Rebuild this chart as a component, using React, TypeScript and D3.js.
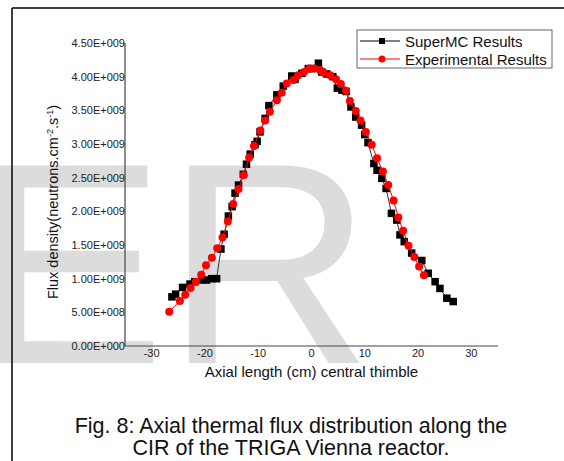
import React from "react";
import * as d3 from "d3";

const superX = [-26.2,-25.5,-24.2,-22.8,-21.9,-20.6,-19.7,-18.7,-17.8,-17.0,-16.4,-15.6,-14.9,-14.35,-13.7,-12.8,-12.2,-11.5,-10.6,-10.2,-9.66,-8.7,-8.0,-6.5,-5.3,-3.7,-3.1,-1.8,-0.6,0.0,1.3,1.9,2.85,4.0,4.85,5.7,6.5,7.4,8.3,9.4,10.0,10.6,11.7,12.3,13.2,14.0,15.0,16.0,16.6,17.4,18.8,20.7,21.9,23.2,24.1,25.4,26.6];
const superY = [0.73,0.77,0.87,0.92,0.955,0.98,0.98,1.0,1.0,1.44,1.66,1.93,2.07,2.27,2.39,2.55,2.70,2.85,2.99,3.04,3.18,3.38,3.57,3.73,3.86,4.01,3.96,4.05,4.12,4.12,4.20,4.07,4.04,4.00,3.83,3.80,3.78,3.55,3.40,3.28,3.14,3.02,2.71,2.61,2.49,2.34,1.97,1.87,1.65,1.55,1.38,1.27,1.08,0.955,0.855,0.71,0.66];

const expX = [-26.7,-24.7,-23.7,-22.7,-21.7,-20.7,-19.8,-18.7,-17.7,-16.7,-15.7,-14.7,-13.7,-12.7,-11.7,-10.8,-9.6,-8.7,-7.8,-6.5,-5.6,-4.65,-3.4,-2.5,-1.4,-0.4,0.5,1.6,2.3,3.5,4.6,5.5,6.5,7.2,8.3,9.2,10.2,11.3,12.3,13.4,14.4,15.4,16.3,17.2,18.2,19.3,20.2,21.1];
const expY = [0.51,0.67,0.76,0.86,0.955,1.06,1.20,1.31,1.45,1.61,1.85,2.11,2.33,2.54,2.80,2.97,3.20,3.35,3.48,3.65,3.76,3.90,3.95,4.02,4.07,4.12,4.12,4.10,4.06,4.02,3.96,3.89,3.79,3.64,3.49,3.35,3.18,2.99,2.79,2.59,2.39,2.16,1.91,1.71,1.49,1.32,1.18,1.05];

const xTicks = [-30,-20,-10,0,10,20,30];
const yTicks = [0,0.5,1.0,1.5,2.0,2.5,3.0,3.5,4.0,4.5];
const yTickLabels = ["0.00E+000","5.00E+008","1.00E+009","1.50E+009","2.00E+009","2.50E+009","3.00E+009","3.50E+009","4.00E+009","4.50E+009"];
const seriesNames = ["SuperMC Results","Experimental Results"];

const FONT = "'Liberation Sans', Arial, sans-serif";

export default function App() {
  const W = 564, H = 461;
  const x = d3.scaleLinear().domain([-35, 35]).range([125, 498]);
  const y = d3.scaleLinear().domain([0, 4.5]).range([346, 43]);
  const line = d3.line<[number, number]>().x(d => x(d[0])).y(d => y(d[1]));
  const sData: [number, number][] = superX.map((v, i) => [v, superY[i]]);
  const eData: [number, number][] = expX.map((v, i) => [v, expY[i]]);

  return (
    <svg width={W} height={H} style={{ position: "absolute", left: 0, top: 0, background: "#fff" }} fontFamily={FONT}>
      <rect x={0} y={0} width={W} height={H} fill="#fff" />
      {/* watermark */}
      <text x={-26} y={363} fontSize={287} fill="#dcdcdc" fontFamily={FONT}>ER</text>
      {/* frame */}
      <line x1={12} y1={8} x2={W} y2={8} stroke="#000" strokeWidth={1.5} />
      <line x1={12} y1={8} x2={12} y2={H} stroke="#000" strokeWidth={1.5} />
      {/* axes */}
      <line x1={x(-35)} y1={y(0)} x2={x(35)} y2={y(0)} stroke="#444" strokeWidth={1.2} />
      <line x1={x(-35)} y1={y(0)} x2={x(-35)} y2={y(4.5)} stroke="#444" strokeWidth={1.2} />
      {xTicks.map(t => (
        <text key={t} x={x(t)} y={y(0) + 11} fontSize={11} textAnchor="middle" fill="#222">{t}</text>
      ))}
      {yTicks.map((t, i) => (
        <text key={t} x={x(-35)} y={y(t) + 4} fontSize={11} textAnchor="end" fill="#222">{yTickLabels[i]}</text>
      ))}
      <text x={311.5} y={377} fontSize={15} textAnchor="middle" fill="#111">Axial length (cm) central thimble</text>
      <text transform="translate(58,202) rotate(-90)" fontSize={14.5} textAnchor="middle" fill="#111">
        Flux density(neutrons.cm<tspan dy={-5} fontSize={9}>-2</tspan><tspan dy={5}>.s</tspan><tspan dy={-5} fontSize={9}>-1</tspan><tspan dy={5}>)</tspan>
      </text>
      {/* series */}
      <path d={line(sData) || ""} fill="none" stroke="#333" strokeWidth={1} />
      {sData.map((d, i) => (
        <rect key={i} x={x(d[0]) - 3.75} y={y(d[1]) - 3.75} width={7.5} height={7.5} fill="#000" />
      ))}
      <path d={line(eData) || ""} fill="none" stroke="#f00" strokeWidth={1} />
      {eData.map((d, i) => (
        <circle key={i} cx={x(d[0])} cy={y(d[1])} r={4} fill="#f00" />
      ))}
      {/* legend */}
      <rect x={357} y={30} width={195} height={38} fill="#fff" stroke="#666" strokeWidth={1} />
      <line x1={360} y1={41} x2={400} y2={41} stroke="#000" strokeWidth={1} />
      <rect x={379} y={38} width={6} height={6} fill="#000" />
      <text x={405} y={46.5} fontSize={15} fill="#111">{seriesNames[0]}</text>
      <line x1={360} y1={59} x2={400} y2={59} stroke="#f00" strokeWidth={1} />
      <circle cx={382} cy={59} r={3.5} fill="#f00" />
      <text x={405} y={64.5} fontSize={15} fill="#111">{seriesNames[1]}</text>
      {/* caption */}
      <text x={291} y={433} fontSize={21.5} textAnchor="middle" fill="#111">Fig. 8: Axial thermal flux distribution along the</text>
      <text x={291} y={455} fontSize={21.5} textAnchor="middle" fill="#111">CIR of the TRIGA Vienna reactor.</text>
    </svg>
  );
}
